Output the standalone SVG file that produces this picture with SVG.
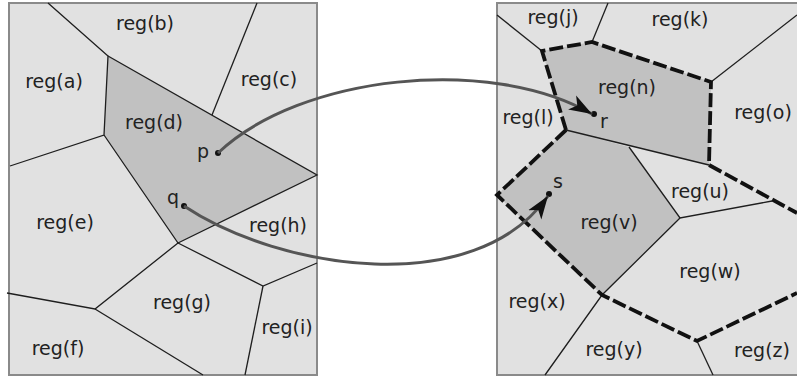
<svg xmlns="http://www.w3.org/2000/svg" width="797" height="383" viewBox="0 0 797 383">
<style>
.panel{fill:#e1e1e1;stroke:#8a8a8a;stroke-width:2}
.shade{fill:#c1c1c1;stroke:none}
.edge{fill:none;stroke:#1e1e1e;stroke-width:1.3}
.dash{fill:none;stroke:#111;stroke-width:3.8;stroke-dasharray:14 4;stroke-linejoin:miter}
.lbl{font-family:"DejaVu Sans",Verdana,sans-serif;font-size:19px;fill:#222;text-anchor:middle}
.dot{fill:#111}
.conn{fill:none;stroke:#555;stroke-width:3}
</style>
<defs>
<marker id="ah" markerUnits="userSpaceOnUse" markerWidth="26" markerHeight="20" refX="23" refY="10" orient="auto">
<path d="M0,2 L23,10 L0,18 L6,10 Z" fill="#111"/>
</marker>
</defs>
<g id="left-panel">
<rect class="panel" x="9" y="3" width="308" height="372"/>
<polygon class="shade" points="108,56 317,175 178,243 104,135"/>
<g class="edges">
<path class="edge" d="M48,3 L108,56 L104,135 L10,166"/>
<path class="edge" d="M108,56 L317,175 L178,243 L104,135"/>
<path class="edge" d="M212,115 L257,3"/>
<path class="edge" d="M178,243 L95,309 L7,293"/>
<path class="edge" d="M95,309 L203,375"/>
<path class="edge" d="M178,243 L263,286 L317,263"/>
<path class="edge" d="M263,286 L245,375"/>
</g>
</g>
<g id="right-panel">
<rect class="panel" x="497" y="3" width="320" height="372"/>
<polygon class="shade" points="542,51 592,42 711,82 709,165 566,130"/>
<polygon class="shade" points="566,130 629,147 680,218 602,295 497,195"/>
<g class="edges">
<path class="edge" d="M497,15 L542,51"/>
<path class="edge" d="M592,42 L608,3"/>
<path class="edge" d="M711,82 L797,15"/>
<path class="edge" d="M566,130 L709,165"/>
<path class="edge" d="M629,147 L680,218 L772,201"/>
<path class="edge" d="M680,218 L602,295 L545,375"/>
<path class="edge" d="M697,341 L713,375"/>
<path class="dash" d="M566,130 L542,51 L592,42 L711,82 L709,165 L797,213"/>
<path class="dash" d="M566,130 L497,195 L602,295 L697,341 L797,293"/>
</g>
</g>
<g id="reg-a"><text class="lbl" x="54" y="88">reg(a)</text></g>
<g id="reg-b"><text class="lbl" x="145" y="30">reg(b)</text></g>
<g id="reg-c"><text class="lbl" x="269" y="86">reg(c)</text></g>
<g id="reg-d"><text class="lbl" x="154" y="129">reg(d)</text></g>
<g id="reg-e"><text class="lbl" x="65" y="229">reg(e)</text></g>
<g id="reg-f"><text class="lbl" x="58" y="355">reg(f)</text></g>
<g id="reg-g"><text class="lbl" x="182" y="309">reg(g)</text></g>
<g id="reg-h"><text class="lbl" x="278" y="232">reg(h)</text></g>
<g id="reg-i"><text class="lbl" x="287" y="334">reg(i)</text></g>
<g id="reg-j"><text class="lbl" x="553" y="24">reg(j)</text></g>
<g id="reg-k"><text class="lbl" x="680" y="26">reg(k)</text></g>
<g id="reg-l"><text class="lbl" x="528" y="124">reg(l)</text></g>
<g id="reg-n"><text class="lbl" x="627" y="94">reg(n)</text></g>
<g id="reg-o"><text class="lbl" x="763" y="119">reg(o)</text></g>
<g id="reg-u"><text class="lbl" x="700" y="198">reg(u)</text></g>
<g id="reg-v"><text class="lbl" x="609" y="229">reg(v)</text></g>
<g id="reg-w"><text class="lbl" x="710" y="278">reg(w)</text></g>
<g id="reg-x"><text class="lbl" x="537" y="308">reg(x)</text></g>
<g id="reg-y"><text class="lbl" x="614" y="356">reg(y)</text></g>
<g id="reg-z"><text class="lbl" x="762" y="357">reg(z)</text></g>
<g id="point-p"><circle class="dot" cx="218" cy="153" r="3"/><text class="lbl" x="203" y="158">p</text></g>
<g id="point-q"><circle class="dot" cx="184" cy="206" r="3"/><text class="lbl" x="173" y="204">q</text></g>
<g id="point-r"><circle class="dot" cx="594" cy="114" r="3"/><text class="lbl" x="604" y="128">r</text></g>
<g id="point-s"><circle class="dot" cx="549" cy="194" r="3"/><text class="lbl" x="558" y="188">s</text></g>
<g id="connectors">
<path class="conn" d="M218,153 C300,75 490,55 592,114" marker-end="url(#ah)"/>
<path class="conn" d="M184,206 C280,270 475,300 548,196" marker-end="url(#ah)"/>
</g>
</svg>
